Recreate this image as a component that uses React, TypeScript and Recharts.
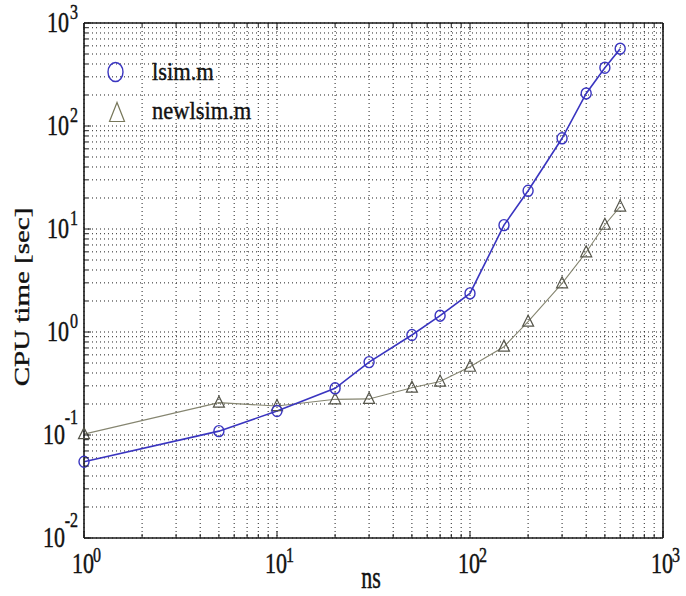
import React from 'react';
import { LineChart, Line, XAxis, YAxis, CartesianGrid, Legend } from 'recharts';

const NS = [1, 5, 10, 20, 30, 50, 70, 100, 150, 200, 300, 400, 500, 600];
const LSIM = [0.055, 0.109, 0.171, 0.284, 0.51, 0.935, 1.44, 2.37, 10.9, 23.5, 76, 207, 368, 563];
const NEWLSIM = [0.102, 0.206, 0.191, 0.222, 0.224, 0.288, 0.33, 0.46, 0.72, 1.26, 2.97, 5.94, 11.0, 16.5];

const X_TICKS = [1, 2, 3, 4, 5, 6, 7, 8, 9, 10, 20, 30, 40, 50, 60, 70, 80, 90, 100, 200, 300, 400, 500, 600, 700, 800, 900, 1000];
const Y_TICKS = [
  0.01, 0.02, 0.03, 0.04, 0.05, 0.06, 0.07, 0.08, 0.09,
  0.1, 0.2, 0.3, 0.4, 0.5, 0.6, 0.7, 0.8, 0.9,
  1, 2, 3, 4, 5, 6, 7, 8, 9,
  10, 20, 30, 40, 50, 60, 70, 80, 90,
  100, 200, 300, 400, 500, 600, 700, 800, 900, 1000,
];
const X_MAJOR = [1, 10, 100, 1000];
const X_EXP = ['0', '1', '2', '3'];
const Y_MAJOR = [0.01, 0.1, 1, 10, 100, 1000];
const Y_EXP = ['-2', '-1', '0', '1', '2', '3'];

const SERIES_NAMES = ['lsim.m', 'newlsim.m'];

const data = NS.map((ns, i) => ({ ns, lsim: LSIM[i], newlsim: NEWLSIM[i] }));

const FONT = '"Liberation Serif", "Times New Roman", serif';
const BLUE = '#3a35c0';
const GRAY_LINE = '#858570';
const GRAY_MARK = '#55554a';
const AXIS = '#1a1a1a';
const TEXT = '#111';
const MAJOR_LEN = 7;
const MINOR_LEN = 4;

const txt = { fontFamily: FONT, fill: TEXT, stroke: TEXT, strokeWidth: 0.35 };

const BottomTick = (props: any) => {
  const { x, y, payload } = props;
  const idx = X_MAJOR.indexOf(payload.value);
  const major = idx >= 0;
  return (
    <g>
      <line x1={x} y1={y} x2={x} y2={y - (major ? MAJOR_LEN : MINOR_LEN)} stroke={AXIS} strokeWidth={1} />
      {major && (
        <g>
          <g transform={`translate(${x - 1},${y + 35}) scale(1,1.3)`}>
            <text x={0} y={0} textAnchor="middle" fontSize={22} {...txt}>10</text>
          </g>
          <g transform={`translate(${x + 9},${y + 24}) scale(1,1.3)`}>
            <text x={0} y={0} textAnchor="start" fontSize={16} {...txt}>{X_EXP[idx]}</text>
          </g>
        </g>
      )}
    </g>
  );
};

const TopTick = (props: any) => {
  const { x, y, payload } = props;
  const major = X_MAJOR.indexOf(payload.value) >= 0;
  return <line x1={x} y1={y} x2={x} y2={y + (major ? MAJOR_LEN : MINOR_LEN)} stroke={AXIS} strokeWidth={1} />;
};

const LeftTick = (props: any) => {
  const { x, y, payload } = props;
  const idx = Y_MAJOR.indexOf(payload.value);
  const major = idx >= 0;
  const neg = major && Y_EXP[idx].startsWith('-');
  return (
    <g>
      <line x1={x} y1={y} x2={x + (major ? MAJOR_LEN : MINOR_LEN)} y2={y} stroke={AXIS} strokeWidth={1} />
      {major && (
        <g>
          <g transform={`translate(${x - (neg ? 19 : 15)},${y + 9}) scale(1,1.3)`}>
            <text x={0} y={0} textAnchor="end" fontSize={22} {...txt}>10</text>
          </g>
          <g transform={`translate(${x - 6},${y - (neg ? 11 : 4)}) scale(1,1.3)`}>
            <text x={0} y={0} textAnchor="end" fontSize={16} {...txt}>{Y_EXP[idx]}</text>
          </g>
        </g>
      )}
    </g>
  );
};

const RightTick = (props: any) => {
  const { x, y, payload } = props;
  const major = Y_MAJOR.indexOf(payload.value) >= 0;
  return <line x1={x} y1={y} x2={x - (major ? MAJOR_LEN : MINOR_LEN)} y2={y} stroke={AXIS} strokeWidth={1} />;
};

const CircleDot = (props: any) => {
  const { cx, cy, index } = props;
  if (cx == null || cy == null) return <g key={`c-${index}`} />;
  return <ellipse key={`c-${index}`} cx={cx} cy={cy} rx={5} ry={5.5} fill="none" stroke={BLUE} strokeWidth={1.4} />;
};

const TriDot = (props: any) => {
  const { cx, cy, index } = props;
  if (cx == null || cy == null) return <g key={`t-${index}`} />;
  const d = `M${cx},${cy - 6.5} L${cx - 5.5},${cy + 4.5} L${cx + 5.5},${cy + 4.5} Z`;
  return <path key={`t-${index}`} d={d} fill="none" stroke={GRAY_MARK} strokeWidth={1.2} />;
};

const LegendContent = () => (
  <svg width={180} height={80} style={{ display: 'block', overflow: 'visible' }}>
    <ellipse cx={15.5} cy={17} rx={7.5} ry={9.5} fill="none" stroke={BLUE} strokeWidth={1.4} />
    <g transform="translate(52,25) scale(1,1.12)">
      <text x={0} y={0} fontSize={22.5} {...txt}>{SERIES_NAMES[0]}</text>
    </g>
    <path d="M17,47.5 L9.5,66.5 L24.5,66.5 Z" fill="none" stroke="#77775a" strokeWidth={1.2} />
    <g transform="translate(52,64) scale(1,1.12)">
      <text x={0} y={0} fontSize={22.5} {...txt}>{SERIES_NAMES[1]}</text>
    </g>
  </svg>
);

export default function App() {
  return (
    <div style={{ position: 'absolute', left: 0, top: 0, width: 686, height: 596, background: '#fff' }}>
      <LineChart width={686} height={596} data={data} margin={{ top: 3, right: 3, bottom: 28, left: 24 }}>
        <CartesianGrid stroke="#222" strokeDasharray="1 3" strokeWidth={1} />
        <XAxis
          dataKey="ns"
          type="number"
          scale="log"
          domain={[1, 1000]}
          ticks={X_TICKS}
          interval={0}
          height={30}
          tickSize={0}
          tickMargin={0}
          tickLine={false}
          tick={<BottomTick />}
          axisLine={{ stroke: AXIS, strokeWidth: 1.6 }}
        />
        <XAxis
          xAxisId="top"
          orientation="top"
          dataKey="ns"
          type="number"
          scale="log"
          domain={[1, 1000]}
          ticks={X_TICKS}
          interval={0}
          height={20}
          tickSize={0}
          tickMargin={0}
          tickLine={false}
          tick={<TopTick />}
          axisLine={{ stroke: AXIS, strokeWidth: 1.6 }}
        />
        <YAxis
          type="number"
          scale="log"
          domain={[0.01, 1000]}
          ticks={Y_TICKS}
          interval={0}
          width={60}
          tickSize={0}
          tickMargin={0}
          tickLine={false}
          tick={<LeftTick />}
          axisLine={{ stroke: AXIS, strokeWidth: 1.6 }}
        />
        <YAxis
          yAxisId="right"
          orientation="right"
          type="number"
          scale="log"
          domain={[0.01, 1000]}
          ticks={Y_TICKS}
          interval={0}
          width={20}
          tickSize={0}
          tickMargin={0}
          tickLine={false}
          tick={<RightTick />}
          axisLine={{ stroke: AXIS, strokeWidth: 1.6 }}
        />
        <Legend
          layout="vertical"
          align="center"
          verticalAlign="middle"
          content={<LegendContent />}
          wrapperStyle={{ position: 'absolute', left: 100, top: 55, width: 180, height: 80 }}
        />
        <Line
          type="linear"
          dataKey="newlsim"
          name={SERIES_NAMES[1]}
          stroke={GRAY_LINE}
          strokeWidth={1.1}
          dot={<TriDot />}
          isAnimationActive={false}
        />
        <Line
          type="linear"
          dataKey="lsim"
          name={SERIES_NAMES[0]}
          stroke={BLUE}
          strokeWidth={1.6}
          dot={<CircleDot />}
          isAnimationActive={false}
        />
      </LineChart>
      <svg width={686} height={596} style={{ position: 'absolute', left: 0, top: 0, pointerEvents: 'none' }}>
        <g transform="translate(29,297) rotate(-90) scale(1.38,1)">
          <text x={0} y={0} textAnchor="middle" fontSize={21} {...txt}>CPU time [sec]</text>
        </g>
        <g transform="translate(371,588) scale(1,1.4)">
          <text x={0} y={0} textAnchor="middle" fontSize={22} {...txt}>ns</text>
        </g>
      </svg>
    </div>
  );
}
